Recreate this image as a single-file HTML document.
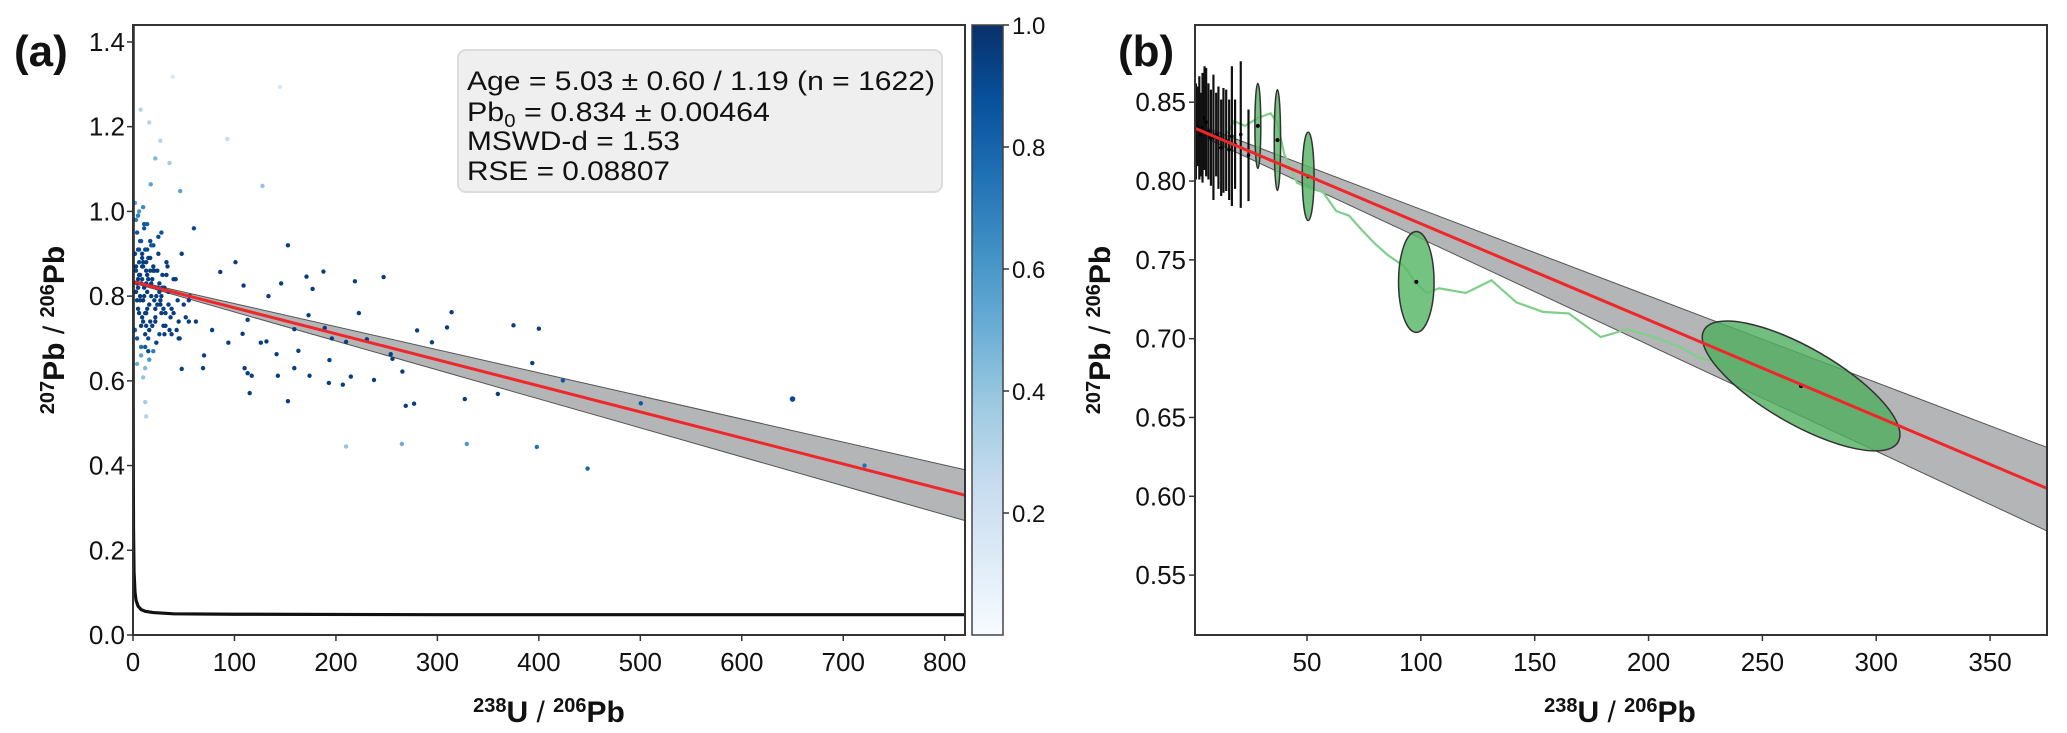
<!DOCTYPE html>
<html><head><meta charset="utf-8">
<style>
html,body{margin:0;padding:0;background:#fff;}
svg{display:block;font-family:"Liberation Sans",Arial,sans-serif;}
</style></head>
<body>
<svg id="fig" width="2067" height="733" viewBox="0 0 2067 733" xmlns="http://www.w3.org/2000/svg">
<defs>
<linearGradient id="blues" x1="0" y1="1" x2="0" y2="0">
<stop offset="0" stop-color="#f7fbff"/><stop offset="0.125" stop-color="#deebf7"/><stop offset="0.25" stop-color="#c6dbef"/><stop offset="0.375" stop-color="#9ecae1"/><stop offset="0.5" stop-color="#6baed6"/><stop offset="0.625" stop-color="#4292c6"/><stop offset="0.75" stop-color="#2171b5"/><stop offset="0.875" stop-color="#08519c"/><stop offset="1" stop-color="#08306b"/>
</linearGradient>
<clipPath id="clipA"><rect x="133" y="25" width="832" height="610"/></clipPath>
<clipPath id="clipB"><rect x="1195" y="25" width="852" height="610"/></clipPath>
</defs>
<g id="panelA"></g>
<g id="panelB"></g>
</svg>
<script>
// ---------- Panel (a) data ----------
const aXTicks = [0,100,200,300,400,500,600,700,800];
const aYTicks = [0.0,0.2,0.4,0.6,0.8,1.0,1.2,1.4];
const cbTicks = [0.2,0.4,0.6,0.8,1.0];
const aLineX = [0, 820];
const aLineY = [0.834, 0.330];
const aBandX = [0, 820];
const aBandLo = [0.831, 0.270];
const aBandHi = [0.837, 0.390];
const concX = [0.07,0.1,0.15,0.2,0.3,0.5,1,2,3,5,8,12,20,40,100,300,820];
const concY = [1.45,1.05,0.71,0.55,0.38,0.25,0.15,0.10,0.082,0.068,0.060,0.056,0.053,0.050,0.049,0.048,0.048];
const ptX = [152.7,101,86,187.7,247,218.7,171,177,133.5,146,109,222.6,314,173,113,159,189,280,309.5,375,400,230.5,196,210,294.6,94,108,126,131.5,163,141.5,254,255.7,193.6,159,69,48,265.5,393.5,110,113,117,142.8,174,214.7,237.5,193,206.8,423.7,115,152.7,327,359.6,500.5,650,268.8,277,210,265,329,398,448,721,93,127.6,46.5,39,145,27,7.5,22,36,16,17.5,10,12,13,
2,3,4,5,6,7,8,9,10,11,12,13,14,15,16,18,20,22,24,26,28,30,33,36,40,44,48,52,56,60,
2,3,4,5,6,7,8,9,10,11,12,13,14,15,17,19,21,23,25,27,29,31,34,37,42,46,50,55,
3,4,5,6,7,8,9,10,11,12,13,14,15,16,18,20,22,24,27,30,33,38,43,
2,4,6,8,10,12,14,16,18,20,23,26,29,32,35,40,45,55,62,70,78,
3,5,7,9,11,13,15,17,19,22,25,28,31,35,
4,6,8,10,12,14,17,20,24,28,
5,9,13,17,21,26,32,38,45];
const ptY = [0.92,0.88,0.857,0.858,0.845,0.835,0.846,0.817,0.80,0.83,0.825,0.76,0.762,0.755,0.744,0.722,0.725,0.719,0.726,0.731,0.723,0.698,0.70,0.692,0.691,0.69,0.711,0.69,0.693,0.671,0.663,0.663,0.652,0.649,0.63,0.63,0.628,0.622,0.642,0.63,0.618,0.612,0.612,0.612,0.61,0.602,0.595,0.591,0.601,0.571,0.552,0.557,0.569,0.547,0.557,0.541,0.546,0.445,0.451,0.451,0.444,0.393,0.40,1.171,1.06,1.048,1.318,1.294,1.167,1.24,1.125,1.114,1.21,1.064,0.608,0.55,0.516,
0.90,0.86,0.95,0.82,0.88,0.79,0.93,0.84,0.87,0.80,0.91,0.76,0.85,0.89,0.78,0.83,0.92,0.74,0.86,0.81,0.95,0.77,0.88,0.72,0.84,0.79,0.90,0.75,0.80,0.96,
0.72,0.98,0.70,0.99,0.76,0.93,0.68,0.87,0.74,0.96,0.71,0.83,0.91,0.67,0.89,0.73,0.86,0.69,0.94,0.78,0.82,0.71,0.87,0.75,0.84,0.70,0.78,0.74,
0.81,0.83,0.77,0.91,0.85,0.73,0.89,0.79,0.82,0.68,0.88,0.77,0.84,0.72,0.80,0.86,0.75,0.82,0.79,0.73,0.85,0.77,0.72,
1.02,0.64,1.00,0.66,1.01,0.63,0.97,0.65,0.92,0.67,0.80,0.71,0.85,0.73,0.78,0.76,0.70,0.79,0.74,0.66,0.72,
0.87,0.91,0.80,0.75,0.97,0.86,0.70,0.93,0.84,0.77,0.90,0.76,0.82,0.81,
0.79,0.85,0.83,0.88,0.76,0.81,0.74,0.87,0.78,0.80,
0.84,0.90,0.73,0.86,0.79,0.83,0.76,0.71,0.74];
const ptC = [0.95,0.95,0.95,0.95,0.95,0.95,0.95,0.95,0.95,0.95,0.95,0.95,0.95,0.95,0.95,0.95,0.95,0.95,0.95,0.95,0.95,0.95,0.95,0.95,0.95,0.95,0.95,0.95,0.95,0.95,0.95,0.95,0.95,0.95,0.95,0.95,0.95,0.95,0.95,0.95,0.95,0.95,0.95,0.95,0.95,0.95,0.95,0.95,0.85,0.95,0.95,0.95,0.95,0.85,0.9,0.95,0.95,0.4,0.5,0.6,0.75,0.8,0.75,0.25,0.4,0.55,0.15,0.15,0.3,0.3,0.45,0.35,0.3,0.55,0.4,0.35,0.3,
0.9,0.9,0.85,0.95,0.9,0.95,0.85,0.95,0.95,0.95,0.9,0.95,0.95,0.9,0.95,0.95,0.9,0.95,0.95,0.95,0.85,0.95,0.95,0.95,0.95,0.95,0.95,0.95,0.95,0.9,
0.8,0.7,0.85,0.7,0.95,0.85,0.75,0.95,0.95,0.85,0.95,0.95,0.9,0.9,0.95,0.95,0.95,0.95,0.9,0.95,0.95,0.95,0.95,0.95,0.95,0.95,0.95,0.95,
0.95,0.95,0.95,0.9,0.95,0.95,0.95,0.95,0.95,0.85,0.95,0.95,0.95,0.95,0.95,0.95,0.95,0.95,0.95,0.95,0.95,0.95,0.95,
0.55,0.5,0.6,0.55,0.65,0.45,0.8,0.6,0.85,0.7,0.95,0.9,0.95,0.95,0.95,0.95,0.95,0.95,0.95,0.95,0.95,
0.95,0.9,0.95,0.95,0.85,0.95,0.9,0.9,0.95,0.95,0.95,0.95,0.95,0.95,
0.95,0.95,0.95,0.95,0.95,0.95,0.95,0.95,0.95,0.95,
0.95,0.95,0.95,0.95,0.95,0.95,0.95,0.95,0.95];

// ---------- Panel (b) data ----------
const bXTicks = [50,100,150,200,250,300,350];
const bYTicks = [0.55,0.60,0.65,0.70,0.75,0.80,0.85];
const bLineX = [0, 375];
const bLineY = [0.834, 0.605];
const bBandX = [0, 375];
const bBandLo = [0.831, 0.578];
const bBandHi = [0.837, 0.631];
const ebX = [1.2,1.9,2.7,3.4,4.1,5.0,5.7,6.7,7.8,8.9,10.1,11.1,12.3,13.3,14.5,15.8,17.0,18.4,20.9,24.3];
const ebHi = [0.862,0.860,0.8665,0.856,0.8686,0.8728,0.8717,0.862,0.858,0.8675,0.856,0.860,0.8517,0.859,0.858,0.8517,0.8728,0.8517,0.876,0.8454];
const ebLo = [0.801,0.8095,0.801,0.803,0.799,0.807,0.803,0.801,0.797,0.788,0.803,0.795,0.7905,0.7926,0.7937,0.788,0.7842,0.795,0.783,0.7873];
const ellX = [28.4,37,50.5,98];
const ellY = [0.835,0.826,0.803,0.736];
const ellRX = [1.3,1.4,2.6,7.8];
const ellRY = [0.027,0.032,0.028,0.032];
const bigEllX = [267];
const bigEllY = [0.670];
const greenX = [15,18,22.7,28.4,34,37,40,45.6,49.9,57,62.8,68.5,74,80,85.5,92.6,98,102.6,108,119.7,131,142,153.6,165,179,190.8,202,213.6,222,236.4,250.6,264.8,275];
const greenY = [0.830,0.838,0.835,0.840,0.843,0.837,0.817,0.799,0.796,0.793,0.781,0.778,0.769,0.760,0.753,0.746,0.735,0.729,0.732,0.729,0.737,0.723,0.717,0.716,0.701,0.706,0.701,0.695,0.688,0.683,0.677,0.672,0.670];

// ---------- helpers ----------
const NS = "http://www.w3.org/2000/svg";
function mk(tag, attrs, parent){ const e=document.createElementNS(NS,tag); for(const k in attrs) e.setAttribute(k,attrs[k]); parent.appendChild(e); return e; }
const blues=[[0,[247,251,255]],[0.125,[222,235,247]],[0.25,[198,219,239]],[0.375,[158,202,225]],[0.5,[107,174,214]],[0.625,[66,146,198]],[0.75,[33,113,181]],[0.875,[8,81,156]],[1,[8,48,107]]];
function cmap(v){ for(let i=1;i<blues.length;i++){ if(v<=blues[i][0]){ const a=blues[i-1],b=blues[i],t=(v-a[0])/(b[0]-a[0]); const c=a[1].map((x,j)=>Math.round(x+(b[1][j]-x)*t)); return `rgb(${c})`; } } return "rgb(8,48,107)"; }

// ---------- Panel (a) ----------
const A = document.getElementById('panelA');
const axL=133, axR=965, axT=25, axB=635;
const aXmax=820, aYmax=(635-25)/423.6;
const ax = v => axL + v/aXmax*(axR-axL);
const ay = v => axB - v/aYmax*(axB-axT);

const aPlot = mk('g',{'clip-path':'url(#clipA)'},A);



const band = mk('polygon',{points:`${ax(aBandX[0])},${ay(aBandHi[0])} ${ax(aBandX[1])},${ay(aBandHi[1])} ${ax(aBandX[1])},${ay(aBandLo[1])} ${ax(aBandX[0])},${ay(aBandLo[0])}`,fill:'#b3b5b7',stroke:'#555','stroke-width':1},aPlot);



for(let i=0;i<ptX.length;i++){
  const c = mk('circle',{cx:ax(ptX[i]),cy:ay(ptY[i]),r:(ptX[i]===650?2.8:2.2),fill:cmap(ptC[i])},aPlot);
  
  
}
const reg = mk('line',{x1:ax(aLineX[0]),y1:ay(aLineY[0]),x2:ax(aLineX[1]),y2:ay(aLineY[1]),stroke:'#f0272a','stroke-width':3},aPlot);



const conc = mk('polyline',{points:concX.map((x,i)=>`${ax(x)},${ay(concY[i])}`).join(' '),fill:'none',stroke:'#111','stroke-width':3.2},aPlot);



const frameA = mk('rect',{x:axL,y:axT,width:axR-axL,height:axB-axT,fill:'none',stroke:'#333','stroke-width':2},A);



aXTicks.forEach(t=>{
  const l=mk('line',{x1:ax(t),y1:axB,x2:ax(t),y2:axB+6,stroke:'#333','stroke-width':1.5},A);
   
  const tx=mk('text',{x:ax(t),y:axB+36,'text-anchor':'middle','font-size':26,fill:'#111'},A);
  tx.textContent=String(t);
  
  
});
aYTicks.forEach(t=>{
  const l=mk('line',{x1:axL-6,y1:ay(t),x2:axL,y2:ay(t),stroke:'#333','stroke-width':1.5},A);
   
  const tx=mk('text',{x:axL-8,y:ay(t)+9,'text-anchor':'end','font-size':26,fill:'#111'},A);
  tx.textContent=t.toFixed(1);
  
  
});

// colorbar
const cbL=972, cbR=1003;
const cb = mk('rect',{x:cbL,y:axT,width:cbR-cbL,height:axB-axT,fill:'url(#blues)',stroke:'#444','stroke-width':1.5},A);


const cy = v => axB - v*(axB-axT);
cbTicks.forEach(t=>{
  const l=mk('line',{x1:cbR,y1:cy(t),x2:cbR+6,y2:cy(t),stroke:'#333','stroke-width':1.5},A);
   
  const tx=mk('text',{x:cbR+9,y:cy(t)+9,'font-size':24,fill:'#111'},A);
  tx.textContent=t.toFixed(1);
  
  
});
</script>
<script>
(function(){
const A=document.getElementById('panelA');
A.insertAdjacentHTML('beforeend',`
<rect x="458" y="50" width="484" height="142" rx="8" fill="#efefef" stroke="#dcdcdc" stroke-width="2"/>
<text x="467" y="90" font-size="27" fill="#111" textLength="468" lengthAdjust="spacingAndGlyphs">Age = 5.03 ± 0.60 / 1.19 (n = 1622)</text>
<text x="467" y="121" font-size="27" fill="#111" textLength="303" lengthAdjust="spacingAndGlyphs">Pb<tspan font-size="18" dy="6">0</tspan><tspan dy="-6"> = 0.834 ± 0.00464</tspan></text>
<text x="467" y="150" font-size="27" fill="#111" textLength="213" lengthAdjust="spacingAndGlyphs">MSWD-d = 1.53</text>
<text x="467" y="180" font-size="27" fill="#111" textLength="203" lengthAdjust="spacingAndGlyphs">RSE = 0.08807</text>
<text x="14" y="66" font-size="44" font-weight="bold" fill="#111">(a)</text>
<text x="549" y="722" text-anchor="middle" font-size="30" font-weight="bold" fill="#111"><tspan font-size="20" dy="-10">238</tspan><tspan dy="10">U</tspan><tspan font-weight="normal"> / </tspan><tspan font-size="20" dy="-10">206</tspan><tspan dy="10">Pb</tspan></text>
<text transform="translate(64,330) rotate(-90)" text-anchor="middle" font-size="30" font-weight="bold" fill="#111"><tspan font-size="20" dy="-10">207</tspan><tspan dy="10">Pb</tspan><tspan font-weight="normal"> / </tspan><tspan font-size="20" dy="-10">206</tspan><tspan dy="10">Pb</tspan></text>
`);
const B=document.getElementById('panelB');
B.insertAdjacentHTML('beforeend',`
<text x="1118" y="66" font-size="44" font-weight="bold" fill="#111">(b)</text>
<text x="1620" y="722" text-anchor="middle" font-size="30" font-weight="bold" fill="#111"><tspan font-size="20" dy="-10">238</tspan><tspan dy="10">U</tspan><tspan font-weight="normal"> / </tspan><tspan font-size="20" dy="-10">206</tspan><tspan dy="10">Pb</tspan></text>
<text transform="translate(1110,330) rotate(-90)" text-anchor="middle" font-size="30" font-weight="bold" fill="#111"><tspan font-size="20" dy="-10">207</tspan><tspan dy="10">Pb</tspan><tspan font-weight="normal"> / </tspan><tspan font-size="20" dy="-10">206</tspan><tspan dy="10">Pb</tspan></text>
`);
})();
</script>
<script>
// ---------- Panel (b) ----------
(function(){
const B = document.getElementById('panelB');
const bL=1195, bR=2047, bT=25, bBt=635;
const bXmin=0.8, bXmax=375, bYmin=0.512, bYmax=0.899;
const bx = v => bL + (v-bXmin)/(bXmax-bXmin)*(bR-bL);
const by = v => bBt - (v-bYmin)/(bYmax-bYmin)*(bBt-bT);
const sx = (bR-bL)/(bXmax-bXmin), sy=(bBt-bT)/(bYmax-bYmin);

const g = mk('g',{'clip-path':'url(#clipB)'},B);



const band = mk('polygon',{points:`${bx(bBandX[0])},${by(bBandHi[0])} ${bx(bBandX[1])},${by(bBandHi[1])} ${bx(bBandX[1])},${by(bBandLo[1])} ${bx(bBandX[0])},${by(bBandLo[0])}`,fill:'#b3b5b7',stroke:'#555','stroke-width':1},g);



const gl = mk('polyline',{points:greenX.map((x,i)=>`${bx(x)},${by(greenY[i])}`).join(' '),fill:'none',stroke:'#7fcf8a','stroke-width':2.2},g);



for(let i=0;i<ebX.length;i++){
  const l = mk('line',{x1:bx(ebX[i]),y1:by(ebHi[i]),x2:bx(ebX[i]),y2:by(ebLo[i]),stroke:'#111','stroke-width':2.2},g);
  
  
  const d = mk('circle',{cx:bx(ebX[i]),cy:by((ebHi[i]+ebLo[i])/2),r:1.8,fill:'#000'},g);
  
  
}
for(let i=0;i<ellX.length;i++){
  const e = mk('ellipse',{cx:bx(ellX[i]),cy:by(ellY[i]),rx:ellRX[i]*sx,ry:ellRY[i]*sy,fill:'#5cb86a','fill-opacity':0.85,stroke:'#333','stroke-width':1.5},g);
  
  
  const d = mk('circle',{cx:bx(ellX[i]),cy:by(ellY[i]),r:2,fill:'#000'},g);
  
  
}
const bcx=bx(bigEllX[0]), bcy=by(bigEllY[0]);
const be = mk('ellipse',{cx:bcx,cy:bcy,rx:112,ry:38,transform:`rotate(30 ${bcx} ${bcy})`,fill:'#4fae5e','fill-opacity':0.8,stroke:'#333','stroke-width':1.5},g);


const bd = mk('circle',{cx:bcx,cy:bcy,r:2.2,fill:'#000'},g);



const reg = mk('line',{x1:bx(bLineX[0]),y1:by(bLineY[0]),x2:bx(bLineX[1]),y2:by(bLineY[1]),stroke:'#f0272a','stroke-width':3},g);



const frame = mk('rect',{x:bL,y:bT,width:bR-bL,height:bBt-bT,fill:'none',stroke:'#333','stroke-width':2},B);



bXTicks.forEach(t=>{
  const l=mk('line',{x1:bx(t),y1:bBt,x2:bx(t),y2:bBt+6,stroke:'#333','stroke-width':1.5},B);
   
  const tx=mk('text',{x:bx(t),y:bBt+36,'text-anchor':'middle','font-size':26,fill:'#111'},B);
  tx.textContent=String(t);
  
  
});
bYTicks.forEach(t=>{
  const l=mk('line',{x1:bL-6,y1:by(t),x2:bL,y2:by(t),stroke:'#333','stroke-width':1.5},B);
   
  const tx=mk('text',{x:bL-9,y:by(t)+9,'text-anchor':'end','font-size':26,fill:'#111'},B);
  tx.textContent=t.toFixed(2);
  
  
});
})();
</script>
</body></html>
